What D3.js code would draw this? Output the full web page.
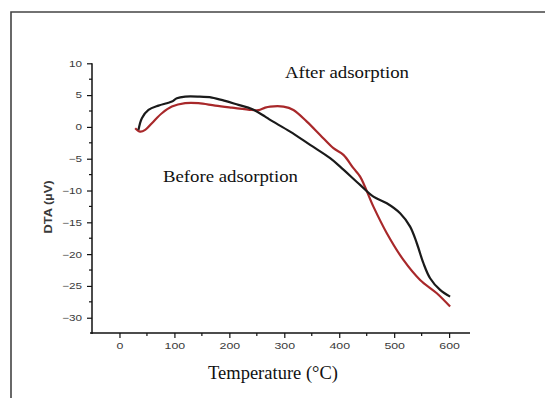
<!DOCTYPE html>
<html><head><meta charset="utf-8">
<script src="https://cdn.jsdelivr.net/npm/d3@7"></script>
<style>
html,body{margin:0;padding:0;background:#fff;}
svg{display:block;}
</style></head>
<body>
<svg id="chart" width="545" height="398"></svg>
<script>
// Data
const xTicks = [0, 100, 200, 300, 400, 500, 600];
const yTicks = [10, 5, 0, -5, -10, -15, -20, -25, -30];
const blackX = [34.6, 40.8, 52.8, 71, 86.3, 95.4, 104.5, 119.6, 143.8, 168.2, 192.4, 216.6, 241, 265.2, 274.3, 310.6, 347, 383.4, 401.6, 438, 462.2, 486.6, 510.8, 529, 541.2, 553.2, 565.4, 583.6, 601.8];
const blackY = [-0.47, 1.37, 2.67, 3.35, 3.73, 3.98, 4.51, 4.76, 4.76, 4.61, 4.09, 3.46, 2.83, 1.62, 1.1, -0.74, -2.83, -4.92, -6.24, -9.12, -10.96, -12.0, -13.57, -15.68, -18.29, -21.43, -23.79, -25.63, -26.68];
const redX = [28.6, 37.7, 46.8, 59, 77.2, 95.4, 119.6, 143.8, 174.2, 204.5, 241, 253, 265.2, 274.3, 298.5, 316.6, 341, 365.2, 389.4, 407.6, 425.8, 438, 462.2, 486.6, 516.8, 547.2, 577.6, 601.8];
const redY = [-0.2, -0.74, -0.47, 0.58, 2.15, 3.19, 3.73, 3.73, 3.35, 3.03, 2.67, 2.63, 3.03, 3.19, 3.19, 2.67, 0.83, -1.26, -3.35, -4.4, -6.49, -7.81, -12.53, -16.71, -20.91, -24.06, -26.15, -28.25];
const labels = ["After adsorption", "Before adsorption"];

const svg = d3.select("#chart");
const sans = "Liberation Sans, Arial, sans-serif";
const serif = "Liberation Serif, Times New Roman, serif";

// frame
svg.append("path").attr("d", "M11,398 L11,12 L545,12").attr("fill", "none")
  .attr("stroke", "#444").attr("stroke-width", 1.6);

const x = d3.scaleLinear().domain([-50, 638]).range([92, 470]);
const y = d3.scaleLinear().domain([-32.4, 10]).range([333, 63.3]);

function stretch(sel, k) {
  sel.each(function () {
    const w = this.getComputedTextLength();
    d3.select(this).attr("textLength", w * k).attr("lengthAdjust", "spacingAndGlyphs");
  });
}

// y axis
const yMinor = d3.range(-32.5, 10.01, 2.5).filter(v => v >= -32.4 && !yTicks.includes(v));
const gy = svg.append("g").attr("transform", "translate(92,0)");
gy.append("line").attr("x1", 0).attr("x2", 0).attr("y1", y(10)).attr("y2", 334).attr("stroke", "#111").attr("stroke-width", 1.5);
gy.call(d3.axisLeft(y).tickValues(yTicks).tickSize(5).tickPadding(5))
  .call(g => g.select(".domain").remove());
gy.selectAll(".tick line").attr("stroke", "#111").attr("stroke-width", 1.2);
gy.selectAll(".tick text").attr("font-family", sans).attr("font-size", 9).attr("fill", "#3a3a3a").call(stretch, 1.3);
gy.selectAll(".minor").data(yMinor).enter().append("line").attr("class", "minor")
  .attr("x1", -3).attr("x2", 0).attr("y1", d => y(d)).attr("y2", d => y(d)).attr("stroke", "#111").attr("stroke-width", 1.2);

// x axis
const xMinor = d3.range(-50, 640, 50).filter(v => !xTicks.includes(v) && v > -50);
const gx = svg.append("g").attr("transform", "translate(0,333)");
gx.append("line").attr("x1", 90).attr("x2", 470).attr("y1", 0).attr("y2", 0).attr("stroke", "#111").attr("stroke-width", 1.5);
gx.call(d3.axisBottom(x).tickValues(xTicks).tickSize(5).tickPadding(4))
  .call(g => g.select(".domain").remove());
gx.selectAll(".tick line").attr("stroke", "#111").attr("stroke-width", 1.2);
gx.selectAll(".tick text").attr("font-family", sans).attr("font-size", 9.5).attr("fill", "#3a3a3a").call(stretch, 1.3);
gx.selectAll(".minor").data(xMinor).enter().append("line").attr("class", "minor")
  .attr("x1", d => x(d)).attr("x2", d => x(d)).attr("y1", 0).attr("y2", 3).attr("stroke", "#111").attr("stroke-width", 1.2);

// lines
const line = d3.line().x(d => x(d[0])).y(d => y(d[1])).curve(d3.curveCatmullRom.alpha(0.5));
svg.append("path").datum(redX.map((v, i) => [v, redY[i]]))
  .attr("d", line).attr("fill", "none").attr("stroke", "#a8282a").attr("stroke-width", 2.2);
svg.append("path").datum(blackX.map((v, i) => [v, blackY[i]]))
  .attr("d", line).attr("fill", "none").attr("stroke", "#1a1a1a").attr("stroke-width", 2.2);

// texts
svg.append("text").attr("x", 285).attr("y", 78).attr("font-family", serif).attr("font-size", 17).attr("fill", "#111")
  .attr("textLength", 124).attr("lengthAdjust", "spacingAndGlyphs").text(labels[0]);
svg.append("text").attr("x", 163).attr("y", 182).attr("font-family", serif).attr("font-size", 17).attr("fill", "#111")
  .attr("textLength", 135).attr("lengthAdjust", "spacingAndGlyphs").text(labels[1]);
svg.append("text").attr("x", 208).attr("y", 379).attr("font-family", serif).attr("font-size", 18).attr("fill", "#111")
  .attr("textLength", 130).attr("lengthAdjust", "spacingAndGlyphs").text("Temperature (°C)");
svg.append("text").attr("transform", "translate(52,207) rotate(-90)").attr("text-anchor", "middle")
  .attr("font-family", sans).attr("font-size", 11).attr("font-weight", "bold").attr("fill", "#3a3a3a")
  .attr("textLength", 53).attr("lengthAdjust", "spacingAndGlyphs").text("DTA (µV)");
</script>
</body></html>
